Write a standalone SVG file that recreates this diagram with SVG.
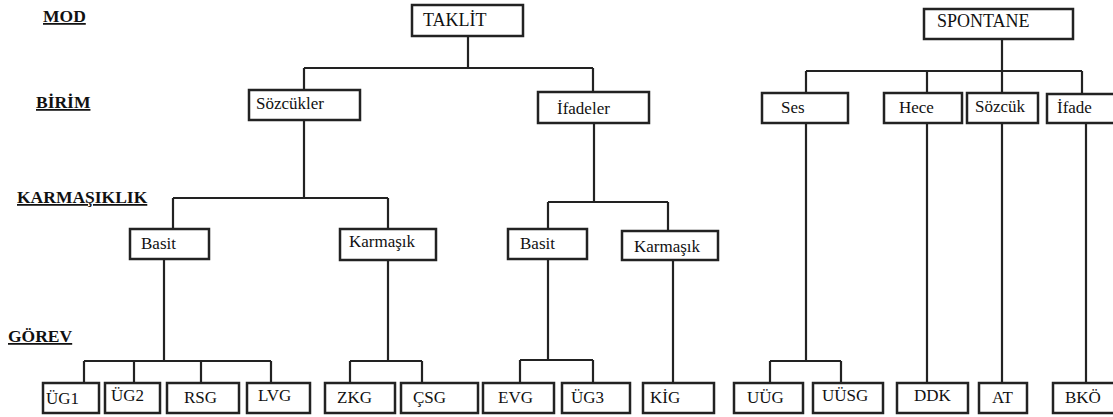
<svg xmlns="http://www.w3.org/2000/svg" width="1113" height="417" viewBox="0 0 1113 417">
<style>
.bg{fill:#fff}
.box{fill:#fff;stroke:#222;stroke-width:2.5}
.lbl{font-family:"Liberation Serif","Times New Roman",serif;font-size:17px;fill:#111}
.top{font-size:18px}
.hdr{font-family:"Liberation Serif","Times New Roman",serif;font-size:17.5px;font-weight:bold;fill:#111;text-decoration:underline}
.conn{fill:none;stroke:#222;stroke-width:2.2}
</style>
<rect class="bg" x="0" y="0" width="1113" height="417"/>
<g id="headers">
<text class="hdr" x="43" y="22">MOD</text>
<text class="hdr" x="36" y="108">BİRİM</text>
<text class="hdr" x="17" y="203">KARMAŞIKLIK</text>
<text class="hdr" x="8" y="342">GÖREV</text>
</g>
<g id="connectors">
<path class="conn" d="M468 36V68M304 68H593M304 68V90M593 68V92"/>
<path class="conn" d="M1002 39V71M806 71H1082M806 71V93M927 71V93M1002 71V93M1082 71V94"/>
<path class="conn" d="M304 120V198M173 198H388M173 198V229M388 198V229"/>
<path class="conn" d="M594 123V202M548 202H668M548 202V229M668 202V231"/>
<path class="conn" d="M164 259V361M84 361H271M84 361V383M134 361V383M201 361V383M271 361V383"/>
<path class="conn" d="M388 260V361M350 361H422M350 361V383M422 361V383"/>
<path class="conn" d="M548 259V360M520 360H593M520 360V383M593 360V383"/>
<path class="conn" d="M673 260V383"/>
<path class="conn" d="M806 123V361M770 361H841M770 361V383M841 361V383"/>
<path class="conn" d="M927 123V383"/>
<path class="conn" d="M1002 123V383"/>
<path class="conn" d="M1086 123V383"/>
</g>
<g id="taklit"><rect class="box" x="412" y="5" width="111" height="31"/><text class="lbl top" x="423" y="26">TAKLİT</text></g>
<g id="spontane"><rect class="box" x="924" y="9" width="149" height="30"/><text class="lbl top" x="937" y="27">SPONTANE</text></g>
<g id="sozcukler"><rect class="box" x="249" y="90" width="111" height="30"/><text class="lbl" x="256" y="109">Sözcükler</text></g>
<g id="ifadeler"><rect class="box" x="538" y="92" width="111" height="31"/><text class="lbl" x="557" y="114">İfadeler</text></g>
<g id="ses"><rect class="box" x="762" y="93" width="86" height="30"/><text class="lbl" x="781" y="113">Ses</text></g>
<g id="hece"><rect class="box" x="884" y="93" width="78" height="30"/><text class="lbl" x="899" y="113">Hece</text></g>
<g id="sozcuk"><rect class="box" x="967" y="93" width="71" height="30"/><text class="lbl" x="975" y="112">Sözcük</text></g>
<g id="ifade"><rect class="box" x="1047" y="94" width="75" height="29"/><text class="lbl" x="1057" y="113">İfade</text></g>
<g id="basit1"><rect class="box" x="130" y="229" width="79" height="30"/><text class="lbl" x="141" y="249">Basit</text></g>
<g id="karmasik1"><rect class="box" x="340" y="229" width="96" height="31"/><text class="lbl" x="349" y="247">Karmaşık</text></g>
<g id="basit2"><rect class="box" x="508" y="229" width="79" height="30"/><text class="lbl" x="520" y="249">Basit</text></g>
<g id="karmasik2"><rect class="box" x="622" y="231" width="96" height="29"/><text class="lbl" x="634" y="252">Karmaşık</text></g>
<g id="ug1"><rect class="box" x="43" y="383" width="56" height="30"/><text class="lbl" x="46" y="404">ÜG1</text></g>
<g id="ug2"><rect class="box" x="105" y="383" width="55" height="30"/><text class="lbl" x="111" y="401">ÜG2</text></g>
<g id="rsg"><rect class="box" x="167" y="383" width="72" height="30"/><text class="lbl" x="184" y="403">RSG</text></g>
<g id="lvg"><rect class="box" x="247" y="383" width="63" height="30"/><text class="lbl" x="258" y="401">LVG</text></g>
<g id="zkg"><rect class="box" x="325" y="383" width="70" height="30"/><text class="lbl" x="337" y="403">ZKG</text></g>
<g id="csg"><rect class="box" x="401" y="383" width="77" height="30"/><text class="lbl" x="413" y="403">ÇSG</text></g>
<g id="evg"><rect class="box" x="483" y="383" width="71" height="30"/><text class="lbl" x="498" y="403">EVG</text></g>
<g id="ug3"><rect class="box" x="562" y="383" width="68" height="30"/><text class="lbl" x="571" y="403">ÜG3</text></g>
<g id="kig"><rect class="box" x="643" y="383" width="71" height="30"/><text class="lbl" x="650" y="403">KİG</text></g>
<g id="uug"><rect class="box" x="734" y="383" width="69" height="30"/><text class="lbl" x="747" y="403">UÜG</text></g>
<g id="uusg"><rect class="box" x="813" y="383" width="70" height="30"/><text class="lbl" x="822" y="401">UÜSG</text></g>
<g id="ddk"><rect class="box" x="897" y="383" width="71" height="30"/><text class="lbl" x="914" y="401">DDK</text></g>
<g id="at"><rect class="box" x="979" y="383" width="48" height="30"/><text class="lbl" x="992" y="403">AT</text></g>
<g id="bko"><rect class="box" x="1053" y="383" width="70" height="30"/><text class="lbl" x="1065" y="403">BKÖ</text></g>
</svg>
